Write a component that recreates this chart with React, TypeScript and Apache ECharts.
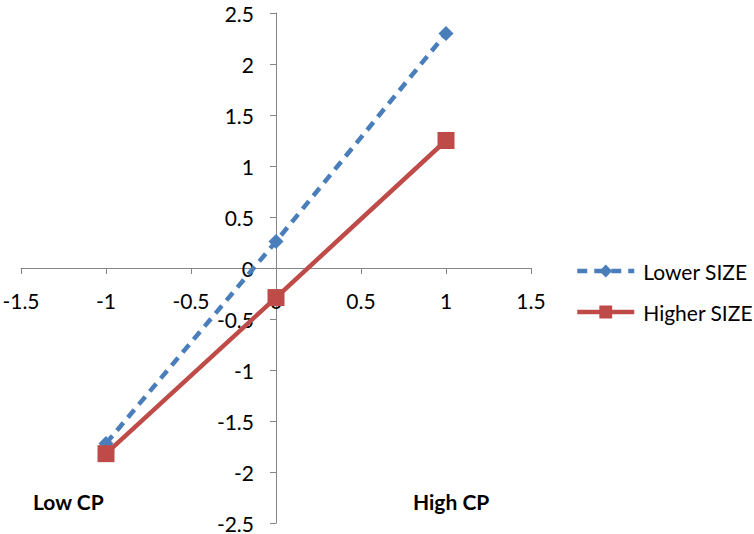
import React, { useEffect, useRef } from "react";
import * as echarts from "echarts";

const xValues = [-1, 0, 1];
const lowerSize = [-1.72, 0.26, 2.3];
const higherSize = [-1.82, -0.29, 1.25];
const seriesNames = ["Lower SIZE", "Higher SIZE"];
const cornerLabels = ["Low CP", "High CP"];

const FONT = "Lato, 'Open Sans', sans-serif";

const GRID_LEFT = 21;
const GRID_RIGHT = 223;
const GRID_TOP = 13;
const GRID_BOTTOM = 11;
const W = 754;
const H = 534;

export default function App() {
  const ref = useRef<HTMLDivElement>(null);
  useEffect(() => {
    document.body.style.margin = "0";
    const chart = echarts.init(ref.current!, null, { renderer: "svg" });
    const gridW = W - GRID_LEFT - GRID_RIGHT;
    const gridH = H - GRID_TOP - GRID_BOTTOM;
    const axisCommon = {
      type: "value" as const,
      axisLine: { show: true, onZero: false, lineStyle: { color: "#868686", width: 1 } },
      axisTick: { show: true, length: 6, lineStyle: { color: "#868686" } },
      splitLine: { show: false },
      axisLabel: {
        color: "#000",
        fontFamily: FONT,
        fontSize: 21,
        margin: 22,
        showMinLabel: true,
        showMaxLabel: true,
      },
    };
    chart.setOption({
      animation: false,
      textStyle: { fontFamily: FONT },
      grid: {
        left: GRID_LEFT,
        right: GRID_RIGHT,
        top: GRID_TOP,
        bottom: GRID_BOTTOM,
        containLabel: false,
        outerBoundsMode: "none",
      },
      xAxis: {
        ...axisCommon,
        position: "bottom",
        offset: -gridH / 2,
        min: -1.5,
        max: 1.5,
        interval: 0.5,
      },
      yAxis: {
        ...axisCommon,
        position: "left",
        offset: -gridW / 2,
        min: -2.5,
        max: 2.5,
        interval: 0.5,
      },
      legend: {
        orient: "vertical",
        left: 570,
        top: 254,
        itemWidth: 57,
        itemHeight: 16,
        itemGap: 17,
        data: seriesNames,
        lineStyle: { width: 4.5 },
        textStyle: {
          color: "#000",
          fontFamily: FONT,
          fontSize: 21,
          lineHeight: 24,
          padding: [0, 0, 0, 4],
        },
      },
      series: [
        {
          name: seriesNames[0],
          type: "line",
          data: xValues.map((x, i) => [x, lowerSize[i]]),
          symbol: "diamond",
          symbolSize: 15,
          itemStyle: { color: "#4A7EBB" },
          lineStyle: { color: "#4A7EBB", width: 4.5, type: [10, 7] },
          z: 2,
        },
        {
          name: seriesNames[1],
          type: "line",
          data: xValues.map((x, i) => [x, higherSize[i]]),
          symbol: "rect",
          symbolSize: 17,
          itemStyle: { color: "#BE4B48" },
          lineStyle: { color: "#BE4B48", width: 4.5, type: "solid" },
          z: 3,
        },
      ],
      graphic: [
        {
          type: "text",
          left: 33,
          top: 491,
          style: {
            text: cornerLabels[0],
            fill: "#000",
            font: `bold 21px ${FONT}`,
          },
        },
        {
          type: "text",
          left: 413,
          top: 491,
          style: {
            text: cornerLabels[1],
            fill: "#000",
            font: `bold 21px ${FONT}`,
          },
        },
      ],
    });
    return () => chart.dispose();
  }, []);
  return <div ref={ref} style={{ width: W, height: H }} />;
}
